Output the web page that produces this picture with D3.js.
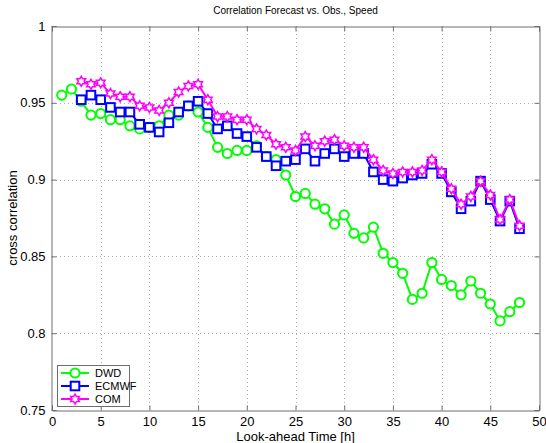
<!DOCTYPE html>
<html>
<head>
<meta charset="utf-8">
<script src="https://cdn.jsdelivr.net/npm/d3@7"></script>
<style>
  html, body { margin: 0; padding: 0; background: #fff; }
  svg { display: block; font-family: "Liberation Sans", Arial, sans-serif; }
</style>
</head>
<body>
<svg id="chart" width="546" height="443"></svg>
<script>
// Look-ahead hours 1..48
const hours = d3.range(1, 49);

// Cross correlation per look-ahead hour
const dwd = [0.955, 0.959, 0.951, 0.942, 0.943, 0.939, 0.939, 0.935, 0.933, 0.934,
  0.935, 0.942, 0.942, 0.948, 0.944, 0.934, 0.921, 0.917, 0.919, 0.919,
  0.922, 0.915, 0.913, 0.903, 0.889, 0.891, 0.884, 0.881, 0.871, 0.877,
  0.865, 0.862, 0.869, 0.852, 0.846, 0.839, 0.822, 0.826, 0.846, 0.835,
  0.831, 0.825, 0.834, 0.826, 0.819, 0.808, 0.814, 0.820];

const ecmwf = [null, null, 0.952, 0.955, 0.952, 0.947, 0.944, 0.944, 0.936, 0.934,
  0.931, 0.937, 0.944, 0.948, 0.951, 0.943, 0.933, 0.935, 0.930, 0.928,
  0.921, 0.915, 0.909, 0.912, 0.913, 0.920, 0.912, 0.917, 0.920, 0.915,
  0.917, 0.917, 0.905, 0.900, 0.899, 0.901, 0.903, 0.904, 0.910, 0.904,
  0.892, 0.881, 0.886, 0.899, 0.887, 0.873, 0.886, 0.868];

const com = [null, null, 0.964, 0.962, 0.963, 0.956, 0.954, 0.954, 0.948, 0.947,
  0.945, 0.950, 0.957, 0.961, 0.962, 0.952, 0.941, 0.941, 0.939, 0.939,
  0.933, 0.929, 0.923, 0.921, 0.919, 0.928, 0.922, 0.925, 0.926, 0.922,
  0.921, 0.921, 0.913, 0.906, 0.904, 0.905, 0.905, 0.906, 0.913, 0.905,
  0.894, 0.884, 0.889, 0.899, 0.890, 0.874, 0.887, 0.870];

const xTicks = [0, 5, 10, 15, 20, 25, 30, 35, 40, 45, 50];
const yTicks = [0.75, 0.8, 0.85, 0.9, 0.95, 1];
const yTickLabels = ["0.75", "0.8", "0.85", "0.9", "0.95", "1"];

const seriesNames = ["DWD", "ECMWF", "COM"];
const seriesColors = ["#00ff00", "#0000ff", "#ff00ff"];
const seriesMarkers = ["circle", "square", "hexagram"];

const svg = d3.select("#chart");
const plotLeft = 52, plotRight = 539, plotTop = 26, plotBottom = 410;

const x = d3.scaleLinear().domain([0, 50]).range([plotLeft, plotRight]);
const y = d3.scaleLinear().domain([0.75, 1]).range([plotBottom, plotTop]);

// dotted grid
const grid = svg.append("g");
grid.selectAll("line.gx").data(xTicks.slice(1, -1)).join("line")
  .attr("x1", d => Math.round(x(d)) + 0.5).attr("x2", d => Math.round(x(d)) + 0.5)
  .attr("y1", plotTop).attr("y2", plotBottom)
  .attr("stroke", "#b0b0b0").attr("stroke-width", 1).attr("stroke-dasharray", "1,3");
grid.selectAll("line.gy").data(yTicks.slice(1, -1)).join("line")
  .attr("y1", d => Math.round(y(d)) + 0.5).attr("y2", d => Math.round(y(d)) + 0.5)
  .attr("x1", plotLeft).attr("x2", plotRight)
  .attr("stroke", "#b0b0b0").attr("stroke-width", 1).attr("stroke-dasharray", "1,3");

// axes (ticks point inward, box around the plot)
const axisColor = "#6e6e6e";
const xAxisB = d3.axisBottom(x).tickValues(xTicks).tickSize(-5).tickPadding(6).tickFormat(d3.format("d"));
const xAxisT = d3.axisTop(x).tickValues(xTicks).tickSize(-5).tickFormat("");
const yAxisL = d3.axisLeft(y).tickValues(yTicks).tickSize(-5).tickPadding(6)
  .tickFormat((d, i) => yTickLabels[i]);
const yAxisR = d3.axisRight(y).tickValues(yTicks).tickSize(-5).tickFormat("");

function styleAxis(g) {
  g.select(".domain").attr("stroke", axisColor);
  g.selectAll(".tick line").attr("stroke", axisColor);
  g.selectAll(".tick text").attr("fill", "#000").attr("font-size", 13)
    .attr("font-family", "Liberation Sans, Arial, sans-serif");
}
svg.append("g").attr("transform", `translate(0,${plotBottom + 0.5})`).call(xAxisB).call(styleAxis);
svg.append("g").attr("transform", `translate(0,${plotTop + 0.5})`).call(xAxisT).call(styleAxis);
svg.append("g").attr("transform", `translate(${plotLeft - 0.5},0)`).call(yAxisL).call(styleAxis);
svg.append("g").attr("transform", `translate(${plotRight + 0.5},0)`).call(yAxisR).call(styleAxis);

// marker shapes
function hexagramPath(r) {
  const pts = [];
  for (let i = 0; i < 12; i++) {
    const rr = i % 2 === 0 ? r : r / Math.sqrt(3);
    const a = -Math.PI / 2 + i * Math.PI / 6;
    pts.push([rr * Math.cos(a), rr * Math.sin(a)]);
  }
  return "M" + pts.map(p => p[0].toFixed(2) + "," + p[1].toFixed(2)).join("L") + "Z";
}
function drawMarker(g, kind, cx, cy, color) {
  if (kind === "circle") {
    g.append("circle").attr("cx", cx).attr("cy", cy).attr("r", 4.6)
      .attr("fill", "#fff").attr("stroke", color).attr("stroke-width", 2);
  } else if (kind === "square") {
    g.append("rect").attr("x", cx - 4.3).attr("y", cy - 4.3).attr("width", 8.6).attr("height", 8.6)
      .attr("fill", "#fff").attr("stroke", color).attr("stroke-width", 2);
  } else {
    g.append("path").attr("transform", `translate(${cx},${cy})`).attr("d", hexagramPath(5))
      .attr("fill", "#fff").attr("stroke", color).attr("stroke-width", 1.5);
  }
}

const allSeries = [dwd, ecmwf, com];
const line = d3.line().defined(d => d[1] != null).x(d => x(d[0])).y(d => y(d[1]));

allSeries.forEach((vals, si) => {
  const pts = hours.map((h, i) => [h, vals[i]]);
  const g = svg.append("g");
  g.append("path").datum(pts).attr("d", line)
    .attr("fill", "none").attr("stroke", seriesColors[si]).attr("stroke-width", 2)
    .attr("stroke-linejoin", "round");
  pts.filter(p => p[1] != null).forEach(p => drawMarker(g, seriesMarkers[si], x(p[0]), y(p[1]), seriesColors[si]));
});

// legend
const lg = svg.append("g");
lg.append("rect").attr("x", 57.5).attr("y", 365.5).attr("width", 72).attr("height", 41)
  .attr("fill", "#fff").attr("stroke", axisColor).attr("stroke-width", 1);
seriesNames.forEach((name, i) => {
  const ly = 373 + i * 13;
  lg.append("line").attr("x1", 61).attr("x2", 89).attr("y1", ly).attr("y2", ly)
    .attr("stroke", seriesColors[i]).attr("stroke-width", 2);
  drawMarker(lg, seriesMarkers[i], 75, ly, seriesColors[i]);
  lg.append("text").attr("x", 95).attr("y", ly + 4).attr("font-size", 11)
    .attr("fill", "#000").text(name);
});

// titles
svg.append("text").attr("x", (plotLeft + plotRight) / 2).attr("y", 14).attr("text-anchor", "middle")
  .attr("font-size", 10).attr("fill", "#000").text("Correlation Forecast vs. Obs., Speed");
svg.append("text").attr("x", (plotLeft + plotRight) / 2).attr("y", 441).attr("text-anchor", "middle")
  .attr("font-size", 13).attr("fill", "#000").text("Look-ahead Time [h]");
svg.append("text").attr("transform", `translate(17,${(plotTop + plotBottom) / 2}) rotate(-90)`)
  .attr("text-anchor", "middle").attr("font-size", 13).attr("fill", "#000").text("cross correlation");
</script>
</body>
</html>
